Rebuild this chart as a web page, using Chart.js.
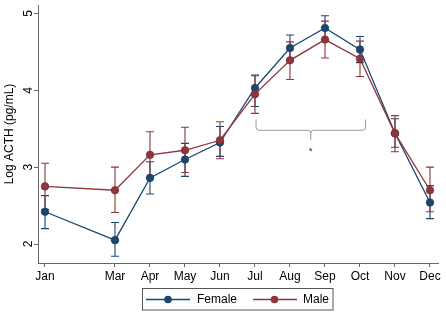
<!DOCTYPE html>
<html>
<head>
<meta charset="utf-8">
<script src="https://cdn.jsdelivr.net/npm/chart.js@4/dist/chart.umd.min.js"></script>
<style>
html,body{margin:0;padding:0;background:#fff;}
#wrap{width:446px;height:315px;position:relative;}
</style>
</head>
<body>
<div id="wrap"><canvas id="c" width="446" height="315"></canvas></div>
<script>
const monthNums   = [1, 3, 4, 5, 6, 7, 8, 9, 10, 11, 12];
const monthLabels = ['Jan','Mar','Apr','May','Jun','Jul','Aug','Sep','Oct','Nov','Dec'];
const yTicks = [2, 3, 4, 5];

const female   = [2.42, 2.05, 2.86, 3.10, 3.32, 4.03, 4.55, 4.81, 4.53, 3.44, 2.54];
const femaleHi = [2.63, 2.28, 3.07, 3.31, 3.53, 4.20, 4.72, 4.97, 4.70, 3.63, 2.76];
const femaleLo = [2.20, 1.84, 2.65, 2.88, 3.14, 3.79, 4.38, 4.65, 4.36, 3.26, 2.33];

const male   = [2.75, 2.70, 3.16, 3.22, 3.35, 3.95, 4.39, 4.66, 4.41, 3.44, 2.70];
const maleHi = [3.05, 3.00, 3.46, 3.52, 3.59, 4.19, 4.63, 4.90, 4.64, 3.67, 3.00];
const maleLo = [2.45, 2.41, 2.86, 2.93, 3.11, 3.70, 4.14, 4.42, 4.18, 3.20, 2.42];

const NAVY = '#1a476f';
const MAROON = '#90353b';
const FONT = '"Liberation Sans", Arial, sans-serif';

const toPts = arr => arr.map((v, i) => ({x: monthNums[i], y: v}));

const errorBars = {
  id: 'errorBars',
  beforeDatasetsDraw(chart) {
    const {ctx, scales: {x, y}} = chart;
    const sets = [[femaleLo, femaleHi, NAVY], [maleLo, maleHi, MAROON]];
    ctx.save();
    ctx.lineWidth = 1.1;
    sets.forEach(([lo, hi, col]) => {
      ctx.strokeStyle = col;
      lo.forEach((l, i) => {
        const px = x.getPixelForValue(monthNums[i]);
        const pl = y.getPixelForValue(l);
        const ph = y.getPixelForValue(hi[i]);
        ctx.beginPath();
        ctx.moveTo(px, pl); ctx.lineTo(px, ph);
        ctx.moveTo(px - 4, pl); ctx.lineTo(px + 4, pl);
        ctx.moveTo(px - 4, ph); ctx.lineTo(px + 4, ph);
        ctx.stroke();
      });
    });
    ctx.restore();
  }
};

const decor = {
  id: 'decor',
  afterDraw(chart) {
    const {ctx, scales: {x, y}} = chart;
    ctx.save();
    // y tick labels (rotated)
    ctx.fillStyle = '#000';
    ctx.font = '12px ' + FONT;
    ctx.textAlign = 'center';
    ctx.textBaseline = 'middle';
    yTicks.forEach(v => {
      const py = y.getPixelForValue(v);
      ctx.save();
      ctx.translate(29, py);
      ctx.rotate(-Math.PI / 2);
      ctx.fillText(String(v), 0, 0);
      ctx.restore();
    });
    // y title
    ctx.save();
    ctx.translate(10, (chart.chartArea.top + chart.chartArea.bottom) / 2);
    ctx.rotate(-Math.PI / 2);
    ctx.fillText('Log ACTH (pg/mL)', 0, 0);
    ctx.restore();

    // bracket
    const bx1 = x.getPixelForValue(7.03), bx2 = x.getPixelForValue(10.16);
    const bTop = y.getPixelForValue(3.62), bMid = y.getPixelForValue(3.48), bTip = y.getPixelForValue(3.35);
    const bc = (bx1 + bx2) / 2;
    const r = 3;
    ctx.strokeStyle = '#9a9a9a';
    ctx.lineWidth = 1;
    ctx.beginPath();
    ctx.moveTo(bx1, bTop);
    ctx.lineTo(bx1, bMid - r);
    ctx.quadraticCurveTo(bx1, bMid, bx1 + r, bMid);
    ctx.lineTo(bc - r, bMid);
    ctx.quadraticCurveTo(bc, bMid, bc, bMid + r);
    ctx.lineTo(bc, bTip);
    ctx.moveTo(bc, bMid + r);
    ctx.quadraticCurveTo(bc, bMid, bc + r, bMid);
    ctx.lineTo(bx2 - r, bMid);
    ctx.quadraticCurveTo(bx2, bMid, bx2, bMid - r);
    ctx.lineTo(bx2, bTop);
    ctx.stroke();
    ctx.fillStyle = '#222';
    ctx.font = '9px ' + FONT;
    ctx.fillText('*', bc, y.getPixelForValue(3.21));

    // legend
    const lx = 142.5, ly = 288.5, lw = 190.5, lh = 21.5;
    ctx.strokeStyle = '#555';
    ctx.lineWidth = 1;
    ctx.strokeRect(lx, ly, lw, lh);
    const cy = 299.5;
    const items = [
      {x1: 146, x2: 190, m: 168, t: 197, label: 'Female', col: NAVY},
      {x1: 253, x2: 297, m: 274.5, t: 303, label: 'Male', col: MAROON}
    ];
    items.forEach(it => {
      ctx.strokeStyle = it.col;
      ctx.lineWidth = 1.3;
      ctx.beginPath(); ctx.moveTo(it.x1, cy); ctx.lineTo(it.x2, cy); ctx.stroke();
      ctx.fillStyle = it.col;
      ctx.beginPath(); ctx.arc(it.m, cy, 3.8, 0, Math.PI * 2); ctx.fill();
      ctx.fillStyle = '#000';
      ctx.font = '12px ' + FONT;
      ctx.textAlign = 'left';
      ctx.fillText(it.label, it.t, cy + 0.5);
    });
    ctx.restore();
  }
};

new Chart(document.getElementById('c'), {
  type: 'line',
  data: {
    datasets: [
      {label: 'Female', data: toPts(female), borderColor: NAVY, backgroundColor: NAVY,
       pointBackgroundColor: NAVY, pointBorderColor: '#14385a', pointBorderWidth: 0.6,
       pointRadius: 3.8, borderWidth: 1.3, tension: 0, order: 2},
      {label: 'Male', data: toPts(male), borderColor: MAROON, backgroundColor: MAROON,
       pointBackgroundColor: MAROON, pointBorderColor: '#72282d', pointBorderWidth: 0.6,
       pointRadius: 3.8, borderWidth: 1.3, tension: 0, order: 1}
    ]
  },
  options: {
    responsive: false,
    animation: false,
    devicePixelRatio: 1,
    layout: {padding: {top: 5, right: 8, left: 0, bottom: 0}},
    plugins: {legend: {display: false}, tooltip: {enabled: false}},
    scales: {
      x: {
        type: 'linear', min: 0.8, max: 12.229,
        afterBuildTicks: s => { s.ticks = monthNums.map(v => ({value: v})); },
        afterFit: s => { s.height = 52; },
        grid: {drawOnChartArea: false, drawTicks: true, tickLength: 4, color: '#666'},
        border: {display: true, color: '#666', width: 1},
        ticks: {
          autoSkip: false, maxRotation: 0, minRotation: 0, padding: 2,
          color: '#000', font: {family: FONT, size: 12},
          callback: v => { const i = monthNums.indexOf(v); return i >= 0 ? monthLabels[i] : ''; }
        }
      },
      y: {
        type: 'linear', min: 1.753, max: 5.11,
        afterBuildTicks: s => { s.ticks = yTicks.map(v => ({value: v})); },
        afterFit: s => { s.width = 38; },
        grid: {drawOnChartArea: false, drawTicks: true, tickLength: 4, color: '#666'},
        border: {display: true, color: '#666', width: 1},
        ticks: {display: false}
      }
    }
  },
  plugins: [errorBars, decor]
});
</script>
</body>
</html>
